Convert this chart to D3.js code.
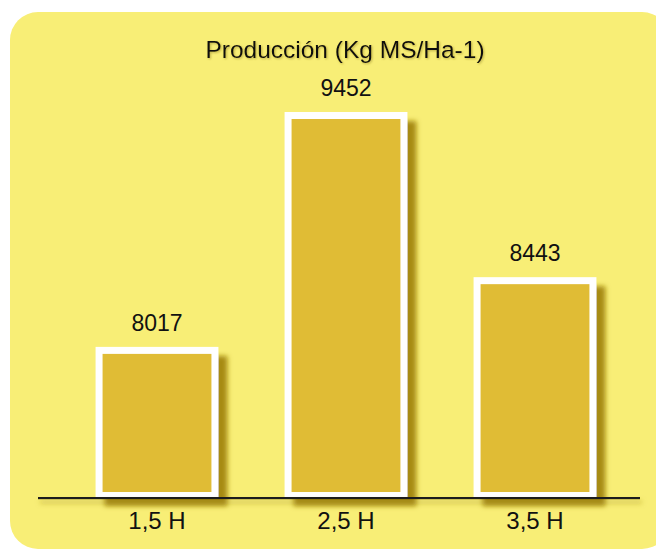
<!DOCTYPE html>
<html>
<head>
<meta charset="utf-8">
<script src="https://cdn.jsdelivr.net/npm/d3@7"></script>
<style>
  body { margin: 0; background: #fff; }
  text { font-family: "Liberation Sans", Arial, sans-serif; fill: #111; }
</style>
</head>
<body>
<svg class="chart"></svg>
<script>
// Datos del gráfico
var categories = ["1,5 H", "2,5 H", "3,5 H"];
var values = [8017, 9452, 8443];
var chartTitle = "Producción (Kg MS/Ha-1)";

var width = 656,
    height = 552,
    baseline = 497,
    border = 7;

var svg = d3.select(".chart")
    .attr("width", width)
    .attr("height", height);

var defs = svg.append("defs");

// Sombra de las barras
var shadow = defs.append("filter")
    .attr("id", "barShadow")
    .attr("x", "-20%").attr("y", "-20%")
    .attr("width", "150%").attr("height", "150%");
shadow.append("feDropShadow")
    .attr("dx", 9).attr("dy", 9)
    .attr("stdDeviation", 2.5)
    .attr("flood-color", "#a3850f")
    .attr("flood-opacity", 0.95);

var lineShadow = defs.append("filter")
    .attr("id", "lineShadow")
    .attr("filterUnits", "userSpaceOnUse")
    .attr("x", 20).attr("y", 480)
    .attr("width", 640).attr("height", 40);
lineShadow.append("feDropShadow")
    .attr("dx", 2).attr("dy", 4)
    .attr("stdDeviation", 2.5)
    .attr("flood-color", "#a08a20")
    .attr("flood-opacity", 0.6);

var textShadow = defs.append("filter")
    .attr("id", "textShadow")
    .attr("x", "-10%").attr("y", "-30%")
    .attr("width", "120%").attr("height", "160%");
textShadow.append("feDropShadow")
    .attr("dx", 1).attr("dy", 1)
    .attr("stdDeviation", 1)
    .attr("flood-color", "#8a7a20")
    .attr("flood-opacity", 0.55);

// Fondo amarillo redondeado
svg.append("rect")
    .attr("x", 10)
    .attr("y", 12)
    .attr("width", 660)
    .attr("height", 537)
    .attr("rx", 28)
    .attr("fill", "#f8ee76");

var x = d3.scaleBand()
    .domain(categories)
    .range([62.5, 629.5])
    .paddingInner(0.35)
    .paddingOuter(0.175);

var y = d3.scaleLinear()
    .domain([7100, 9452])
    .range([baseline, 112]);

// Título
svg.append("text")
    .attr("x", 345)
    .attr("y", 58)
    .attr("text-anchor", "middle")
    .attr("font-size", 24.5)
    .attr("filter", "url(#textShadow)")
    .text(chartTitle);

// Barras
var bar = svg.selectAll(".bar")
    .data(values)
    .enter().append("g")
    .attr("class", "bar");

bar.append("rect")
    .attr("x", function(d, i) { return x(categories[i]); })
    .attr("y", function(d) { return y(d); })
    .attr("width", x.bandwidth())
    .attr("height", function(d) { return baseline - y(d); })
    .attr("fill", "#ffffff")
    .attr("filter", "url(#barShadow)");

bar.append("rect")
    .attr("x", function(d, i) { return x(categories[i]) + border; })
    .attr("y", function(d) { return y(d) + border; })
    .attr("width", x.bandwidth() - 2 * border)
    .attr("height", function(d) { return baseline - y(d) - 2 * border + 2; })
    .attr("fill", "#e0bc35");

// Valores sobre las barras
bar.append("text")
    .attr("x", function(d, i) { return x(categories[i]) + x.bandwidth() / 2; })
    .attr("y", function(d) { return y(d) - 16; })
    .attr("text-anchor", "middle")
    .attr("font-size", 23)
    .text(function(d) { return d; });

// Eje X
var xAxis = d3.axisBottom(x).tickSize(0).tickPadding(14);

var axisG = svg.append("g")
    .attr("class", "x axis")
    .attr("transform", "translate(0," + (baseline + 1) + ")")
    .call(xAxis);

axisG.select(".domain").remove();
axisG.selectAll("text")
    .attr("font-size", 24)
    .attr("font-family", "Liberation Sans, Arial, sans-serif")
    .attr("fill", "#111")
    .attr("dy", "0.71em");

svg.append("rect")
    .attr("x", 38)
    .attr("width", 602)
    .attr("y", baseline)
    .attr("height", 2.2)
    .attr("fill", "#1a1a1a")
    .attr("filter", "url(#lineShadow)");
</script>
</body>
</html>
